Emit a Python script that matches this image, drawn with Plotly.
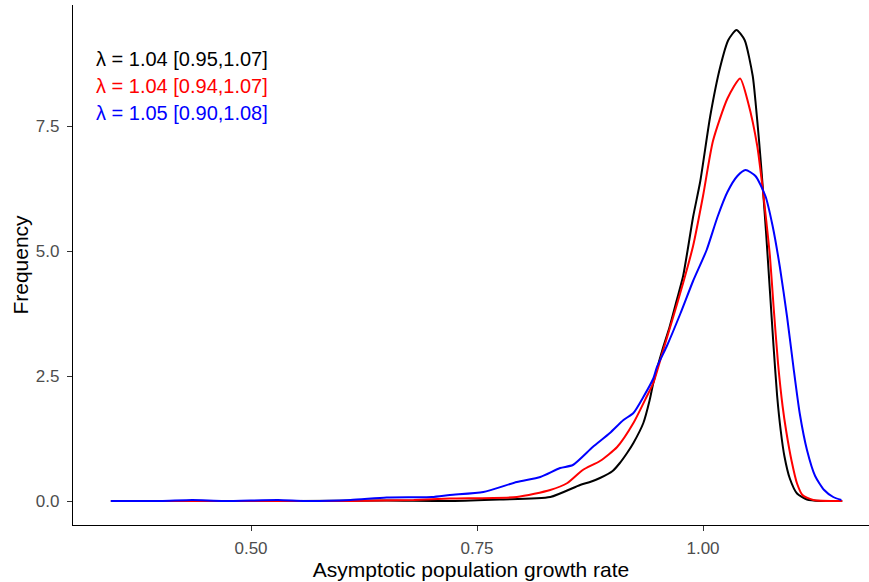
import plotly.graph_objects as go

# ---- data ----
black_x = [0.345, 0.45, 0.55, 0.65, 0.72, 0.775, 0.831, 0.864, 0.875, 0.886, 0.900, 0.908,
           0.916, 0.923, 0.934, 0.941, 0.945, 0.955, 0.963, 0.971, 0.978, 0.983, 0.989,
           0.997, 1.008, 1.019, 1.028, 1.037, 1.046, 1.055, 1.058, 1.062, 1.066, 1.070,
           1.074, 1.078, 1.082, 1.086, 1.090, 1.096, 1.104, 1.115, 1.130, 1.154]
black_y = [0.0, 0.0, 0.0, 0.01, 0.0, 0.03, 0.08, 0.32, 0.38, 0.46, 0.60, 0.76,
           0.96, 1.16, 1.56, 2.02, 2.36, 3.02, 3.48, 4.02, 4.50, 5.02, 5.68,
           6.40, 7.70, 8.68, 9.22, 9.42, 9.22, 8.50, 8.00, 7.20, 6.30, 5.30,
           4.20, 3.10, 2.10, 1.40, 0.90, 0.45, 0.15, 0.03, 0.0, 0.0]

red_x = [0.345, 0.45, 0.55, 0.61, 0.68, 0.72, 0.794, 0.831, 0.850, 0.867, 0.886, 0.905,
         0.923, 0.938, 0.945, 0.956, 0.967, 0.978, 0.989, 1.000, 1.011, 1.027, 1.041,
         1.050, 1.060, 1.065, 1.070, 1.074, 1.078, 1.083, 1.088, 1.092, 1.098, 1.104,
         1.110, 1.122, 1.154]
red_y = [0.0, 0.0, 0.0, 0.0, 0.02, 0.05, 0.08, 0.22, 0.36, 0.62, 0.80, 1.08,
         1.56, 2.10, 2.36, 3.02, 3.68, 4.36, 5.10, 6.10, 7.20, 8.05, 8.45,
         7.96, 7.10, 6.40, 5.60, 4.90, 3.90, 2.75, 1.90, 1.40, 0.80, 0.35,
         0.12, 0.02, 0.0]

blue_x = [0.345, 0.40, 0.435, 0.47, 0.53, 0.56, 0.61, 0.65, 0.70, 0.72, 0.757, 0.794,
          0.820, 0.842, 0.856, 0.878, 0.897, 0.912, 0.923, 0.934, 0.945, 0.949, 0.960,
          0.975, 0.989, 1.004, 1.016, 1.027, 1.038, 1.047, 1.058, 1.069, 1.077, 1.085,
          1.093, 1.100, 1.107, 1.115, 1.124, 1.134, 1.144, 1.153]
blue_y = [0.0, 0.0, 0.02, 0.0, 0.02, 0.0, 0.02, 0.07, 0.08, 0.12, 0.18, 0.38,
          0.48, 0.66, 0.72, 1.08, 1.36, 1.62, 1.76, 2.08, 2.45, 2.68, 3.10,
          3.75, 4.40, 5.02, 5.68, 6.18, 6.50, 6.62, 6.50, 6.10, 5.50, 4.68,
          3.68, 2.68, 1.75, 1.02, 0.50, 0.22, 0.08, 0.02]

labels = ["λ = 1.04 [0.95,1.07]", "λ = 1.04 [0.94,1.07]", "λ = 1.05 [0.90,1.08]"]
label_y = [8.84, 8.30, 7.76]
colors = ["black", "red", "blue"]

x_ticks = [0.50, 0.75, 1.00]
x_ticktext = ["0.50", "0.75", "1.00"]
y_ticks = [0.0, 2.5, 5.0, 7.5]
y_ticktext = ["0.0", "2.5", "5.0", "7.5"]

FONT = "Liberation Sans, Arial, sans-serif"

fig = go.Figure()
series = [(black_x, black_y), (red_x, red_y), (blue_x, blue_y)]
for (xs, ys), c in zip(series, colors):
    fig.add_trace(go.Scatter(x=xs, y=ys, mode="lines",
                             line=dict(color=c, width=2, shape="spline", smoothing=0.6),
                             showlegend=False, hoverinfo="skip"))

for txt, yy, c in zip(labels, label_y, colors):
    fig.add_annotation(x=0.3267, y=yy, xref="x", yref="y", text=txt, showarrow=False,
                       xanchor="left", yanchor="middle",
                       font=dict(family=FONT, size=20, color=c))

fig.update_layout(
    width=869, height=582,
    margin=dict(l=73, r=0, t=5, b=57),
    paper_bgcolor="white", plot_bgcolor="white",
    font=dict(family=FONT),
    xaxis=dict(range=[0.3031, 1.1836], tickvals=x_ticks, ticktext=x_ticktext,
               automargin=False,
               showgrid=False, zeroline=False, showline=True, linecolor="black", linewidth=1.4,
               ticks="outside", ticklen=5, tickwidth=1.1, tickcolor="#333333",
               tickfont=dict(family=FONT, size=17, color="#4D4D4D"),
               ticklabelstandoff=2,
               title=dict(text="Asymptotic population growth rate",
                          font=dict(family=FONT, size=21, color="black"), standoff=2)),
    yaxis=dict(range=[-0.48, 9.92], tickvals=y_ticks, ticktext=y_ticktext,
               automargin=False,
               showgrid=False, zeroline=False, showline=True, linecolor="black", linewidth=1.4,
               ticks="outside", ticklen=5, tickwidth=1.1, tickcolor="#333333",
               tickfont=dict(family=FONT, size=17, color="#4D4D4D"),
               ticklabelstandoff=4,
               title=dict(text="Frequency", font=dict(family=FONT, size=21, color="black"),
                          standoff=1)),
)

fig.write_html("out.html", config={"displayModeBar": False},
               post_script="document.body.style.margin='0';document.body.style.padding='0';")
